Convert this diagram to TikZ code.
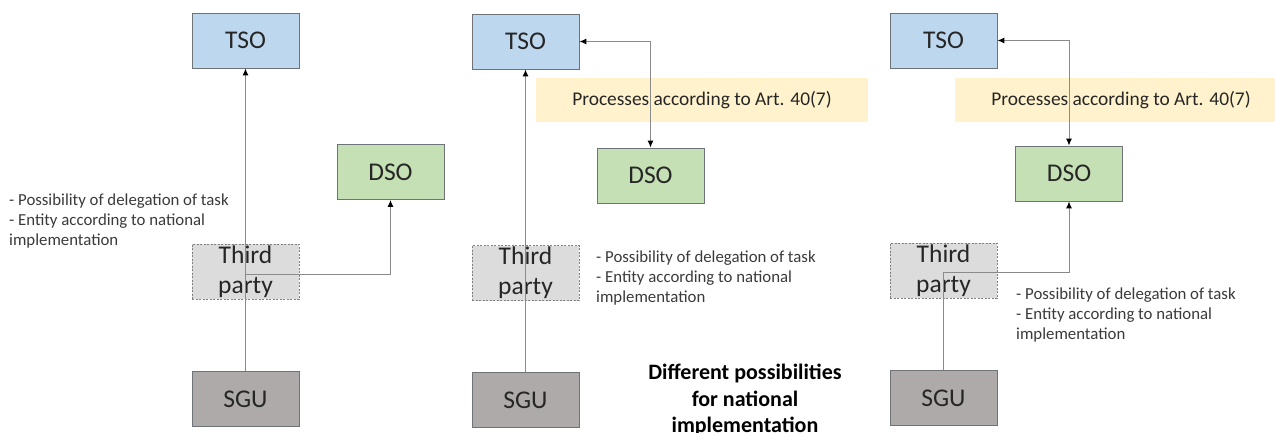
\documentclass[tikz,border=0pt]{standalone}
\usepackage{fontspec}
\setmainfont{Carlito}
\usetikzlibrary{arrows.meta}
\definecolor{tsofill}{HTML}{BDD7EE}
\definecolor{dsofill}{HTML}{C5E0B4}
\definecolor{tpfill}{HTML}{DCDCDC}
\definecolor{sgufill}{HTML}{AEAAAA}
\definecolor{bandfill}{HTML}{FFF2CC}
\definecolor{boxline}{HTML}{6E7378}
\definecolor{conn}{HTML}{8A8A8A}
\definecolor{txt}{HTML}{262626}
\definecolor{notetxt}{HTML}{3A3A3A}
\tikzset{
  x=1pt, y=-1pt,
  box/.style={draw=boxline, line width=0.9pt, minimum width=107pt, minimum height=55pt,
    inner sep=0pt, font=\fontsize{25.5}{30}\selectfont, text=txt, align=center},
  tsobox/.style={box, fill=tsofill},
  dsobox/.style={box, fill=dsofill},
  sgubox/.style={box, fill=sgufill},
  tpbox/.style={box, fill=tpfill, draw=gray, dashed, dash pattern=on 2pt off 1.5pt, line width=0.7pt},
  band/.style={fill=bandfill, minimum width=332pt, minimum height=44pt, inner sep=0pt,
    font=\fontsize{19.4}{22}\selectfont, text=txt},
  note/.style={font=\fontsize{16.8}{20}\selectfont, text=notetxt, align=left, inner sep=0pt, anchor=north west},
  title/.style={font=\fontsize{22}{26.5}\selectfont\bfseries, text=black, align=center, inner sep=0pt, anchor=north},
  conn/.style={draw=conn, line width=1pt},
  tip/.style={-{Latex[length=7pt,width=6pt,color=black]}},
  bitip/.style={{Latex[length=7pt,width=6pt,color=black]}-{Latex[length=7pt,width=6pt,color=black]}}
}
\begin{document}
\begin{tikzpicture}
\useasboundingbox (0,0) rectangle (1275,432);
% panel 1
\node[tsobox] (tso1) at (245.5,40.5) {TSO};
\node[dsobox] (dso1) at (390.5,172) {DSO};
\node[tpbox] (tp1) at (245.5,271.5) {Third\\party};
\node[sgubox] (sgu1) at (245.5,399) {SGU};
\node[note] (n1) at (9,194) {- Possibility of delegation of task\\- Entity according to national\\implementation};
\coordinate (b1) at (245.5,274);
\draw[conn,tip] (sgu1.north) -- (tso1.south);
\draw[conn,tip] (b1) -| (dso1.south);
% panel 2
\node[band] (band2) at (702,100) {Processes according to Art. 40(7)};
\node[tsobox] (tso2) at (525.5,41.5) {TSO};
\node[dsobox] (dso2) at (650.5,175.5) {DSO};
\node[tpbox] (tp2) at (525.5,273) {Third\\party};
\node[sgubox] (sgu2) at (525.5,400) {SGU};
\node[note] (n2) at (596,251) {- Possibility of delegation of task\\- Entity according to national\\implementation};
\draw[conn,tip] (sgu2.north) -- (tso2.south);
\draw[conn,bitip] (tso2.east) -| (dso2.north);
\node[title] (t) at (745,364) {Different possibilities\\for national\\implementation};
% panel 3
\node[band] (band3) at (1121,100) {Processes according to Art. 40(7)};
\node[tsobox] (tso3) at (943.5,40.5) {TSO};
\node[dsobox] (dso3) at (1069,173.5) {DSO};
\node[tpbox] (tp3) at (943.5,270.5) {Third\\party};
\node[sgubox] (sgu3) at (943.5,398) {SGU};
\node[note] (n3) at (1016,288) {- Possibility of delegation of task\\- Entity according to national\\implementation};
\coordinate (b3) at (943.5,272);
\draw[conn] (sgu3.north) -- (b3);
\draw[conn,tip] (b3) -| (dso3.south);
\draw[conn,bitip] (tso3.east) -| (dso3.north);
\end{tikzpicture}
\end{document}
